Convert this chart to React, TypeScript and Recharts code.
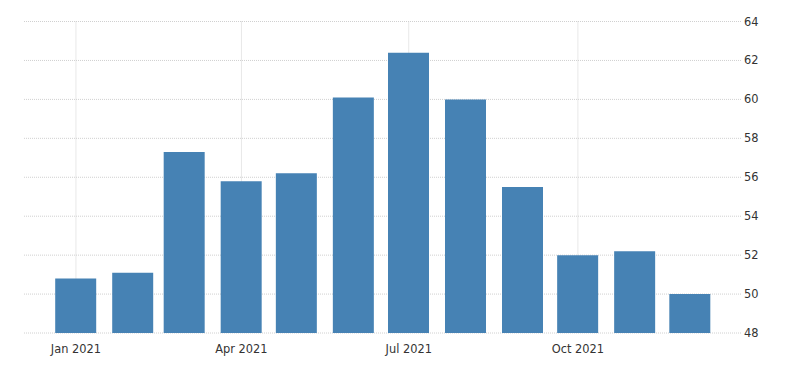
import { Bar, BarChart, CartesianGrid, XAxis, YAxis } from 'recharts'

const months = [
  '2021-01-01', '2021-02-01', '2021-03-01', '2021-04-01', '2021-05-01', '2021-06-01',
  '2021-07-01', '2021-08-01', '2021-09-01', '2021-10-01', '2021-11-01', '2021-12-01',
]
const values = [50.8, 51.1, 57.3, 55.8, 56.2, 60.1, 62.4, 60.0, 55.5, 52.0, 52.2, 50.0]
const tickDates = ['2021-01-01', '2021-04-01', '2021-07-01', '2021-10-01']
const tickLabels = ['Jan 2021', 'Apr 2021', 'Jul 2021', 'Oct 2021']
const yTicks = [48, 50, 52, 54, 56, 58, 60, 62, 64]

const toDay = (s: string) => Date.parse(s + 'T00:00:00Z') / 86400000

const data = months.map((m, i) => ({ t: toDay(m), value: values[i] }))
const xTicks = tickDates.map(toDay)
const xDomain = [data[0].t - 28.25, data[data.length - 1].t + 28.25]

const font = { fontFamily: '"DejaVu Sans", sans-serif', fontSize: 11.4, fill: '#333' }

export default function App() {
  return (
    <div style={{ position: 'absolute', left: 0, top: 0, background: '#fff' }}>
      <BarChart
        width={800}
        height={373}
        data={data}
        margin={{ top: 21.5, right: 0, bottom: 0, left: 24 }}
      >
        <CartesianGrid stroke="#d0d0d0" strokeDasharray="1 1" syncWithTicks />
        <XAxis
          dataKey="t"
          type="number"
          scale="linear"
          domain={xDomain}
          ticks={xTicks}
          tickFormatter={(v: number) => tickLabels[xTicks.indexOf(v)] ?? ''}
          axisLine={false}
          tickLine={false}
          tickSize={0}
          tickMargin={11.5}
          height={40}
          tick={font}
          interval={0}
        />
        <YAxis
          orientation="right"
          domain={[48, 64]}
          ticks={yTicks}
          axisLine={false}
          tickLine={false}
          tickSize={0}
          tickMargin={2}
          width={58}
          tick={font}
          interval={0}
        />
        <Bar dataKey="value" fill="#4682b4" barSize={41} isAnimationActive={false} />
      </BarChart>
    </div>
  )
}
